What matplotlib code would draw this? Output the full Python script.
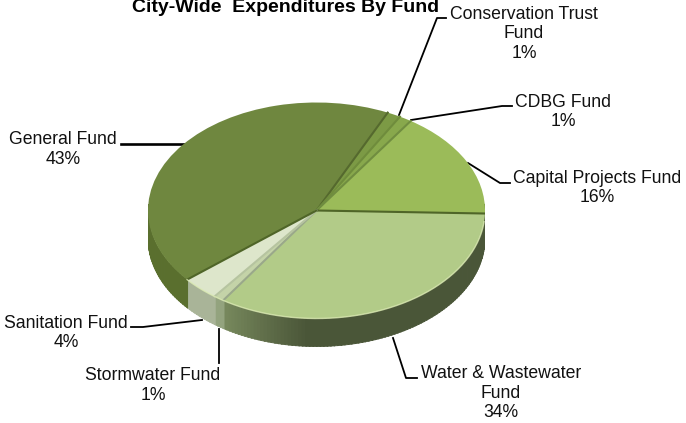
import numpy as np
from matplotlib import pyplot as plt
from matplotlib.colors import to_rgb

funds = ['Conservation Trust\nFund', 'CDBG Fund', 'Capital Projects Fund', 'Water & Wastewater\nFund',
         'Stormwater Fund', 'Sanitation Fund', 'General Fund']
values = [1.3, 1.2, 16.0, 33.9, 1.0, 3.6, 43.0]
pct_labels = ['1%', '1%', '16%', '34%', '1%', '4%', '43%']
top_colors = ['#7c9a45', '#88a84c', '#9bbb59', '#b2cb88', '#c4d3a8', '#dde6cb', '#6f873f']
seam_colors = ['#55692e', '#6f8c3c', '#708d40', '#4f6528', '#9aa88a', '#b6c4a0', '#4f6528']

# pixel layout of the picture
W, H = 686, 423
cx, cy, rx, ry = 316.5, 210.5, 168.5, 108
depth = 28
start_angle = 65

label_pos = [(524, 34), (563, 112), (597, 188), (501, 393), (153, 385.5), (66, 333), (63, 149.5)]
leaders = [
    [(446, 18), (437, 18), (399, 115)],
    [(512, 106), (502, 106), (411, 120)],
    [(510, 183), (500, 183), (468, 163)],
    [(417, 378), (406, 378), (393, 338)],
    [(219, 363), (219, 329)],
    [(131, 327), (143, 327), (202, 320)],
    [(121, 144), (184, 144)],
]


def wall_color(mid, i):
    # shading of the rim, mid is the angle in degrees
    if i == 3:
        t = np.clip((-mid - 93) / 29, 0, 1)
        a, b = np.array(to_rgb('#4a5638')), np.array(to_rgb('#76875c'))
        return a * (1 - t) + b * t
    if i == 4:
        return to_rgb('#93a37e')
    if i == 5:
        return to_rgb('#a9b498')
    return to_rgb('#5a6f2e')


def main():
    fig = plt.figure(figsize=(W / 100, H / 100), dpi=100)
    plt.rcParams['font.family'] = ['Liberation Sans', 'DejaVu Sans']

    # full figure axes in pixels, for the text and the leader lines
    ax = fig.add_axes([0, 0, 1, 1])
    ax.set_xlim(0, W)
    ax.set_ylim(H, 0)
    ax.axis('off')

    # the pie gets squashed by turning off the equal aspect
    pie_ax = fig.add_axes([(cx - rx) / W, 1 - (cy + ry + depth) / H, 2 * rx / W, (2 * ry + depth) / H])

    # side wall first
    edges = start_angle - np.cumsum([0] + values) * 3.6
    d = depth / ry
    for i in range(len(values)):
        a = edges[i + 1]
        while a < edges[i]:
            b = min(a + 1.2, edges[i])
            ang = np.radians([a, b + 0.3])
            x = np.cos(ang)
            y = np.sin(ang)
            mid = (a + b) / 2
            a = b
            if np.sin(np.radians(mid)) > 0.05:
                continue
            c = wall_color(mid, i)
            pie_ax.fill([x[0], x[1], x[1], x[0]], [y[0], y[1], y[1] - d, y[0] - d],
                        facecolor=c, edgecolor=c, lw=0.6, zorder=1)

    wedges, _ = pie_ax.pie(values, colors=top_colors, startangle=start_angle, counterclock=False,
                           radius=1, center=(0, 0), frame=True,
                           wedgeprops=dict(lw=0))
    pie_ax.set_aspect('auto')
    pie_ax.set_xlim(-1, 1)
    pie_ax.set_ylim(-1 - depth / ry, 1)
    pie_ax.axis('off')
    for w in wedges:
        w.set_zorder(2)

    # seams between the slices
    for e, c in zip(edges[:-1], seam_colors):
        pie_ax.plot([0, np.cos(np.radians(e))], [0, np.sin(np.radians(e))], color=c, lw=1.5, zorder=3)

    # light rim along the front of the top face
    rim = np.radians(np.linspace(edges[6], edges[3], 160))
    rim = rim[np.sin(rim) < -0.1]
    pie_ax.plot(np.cos(rim), np.sin(rim), color='#dcebb4', lw=1.0, alpha=0.8, zorder=3)

    for i, pts in enumerate(leaders):
        ax.plot([p[0] for p in pts], [p[1] for p in pts], color='black', lw=1.9 if i == 6 else 1.3, zorder=5)
    for name, pct, pos in zip(funds, pct_labels, label_pos):
        ax.text(pos[0], pos[1], name + '\n' + pct, ha='center', va='center', fontsize=12.7,
                linespacing=1.19, color='#111111', zorder=6)

    ax.text(285.5, 7, 'City-Wide  Expenditures By Fund', ha='center', va='center', fontsize=14,
            fontweight='bold', color='black')

    fig.savefig('out.png', dpi=100)


if __name__ == '__main__':
    main()
